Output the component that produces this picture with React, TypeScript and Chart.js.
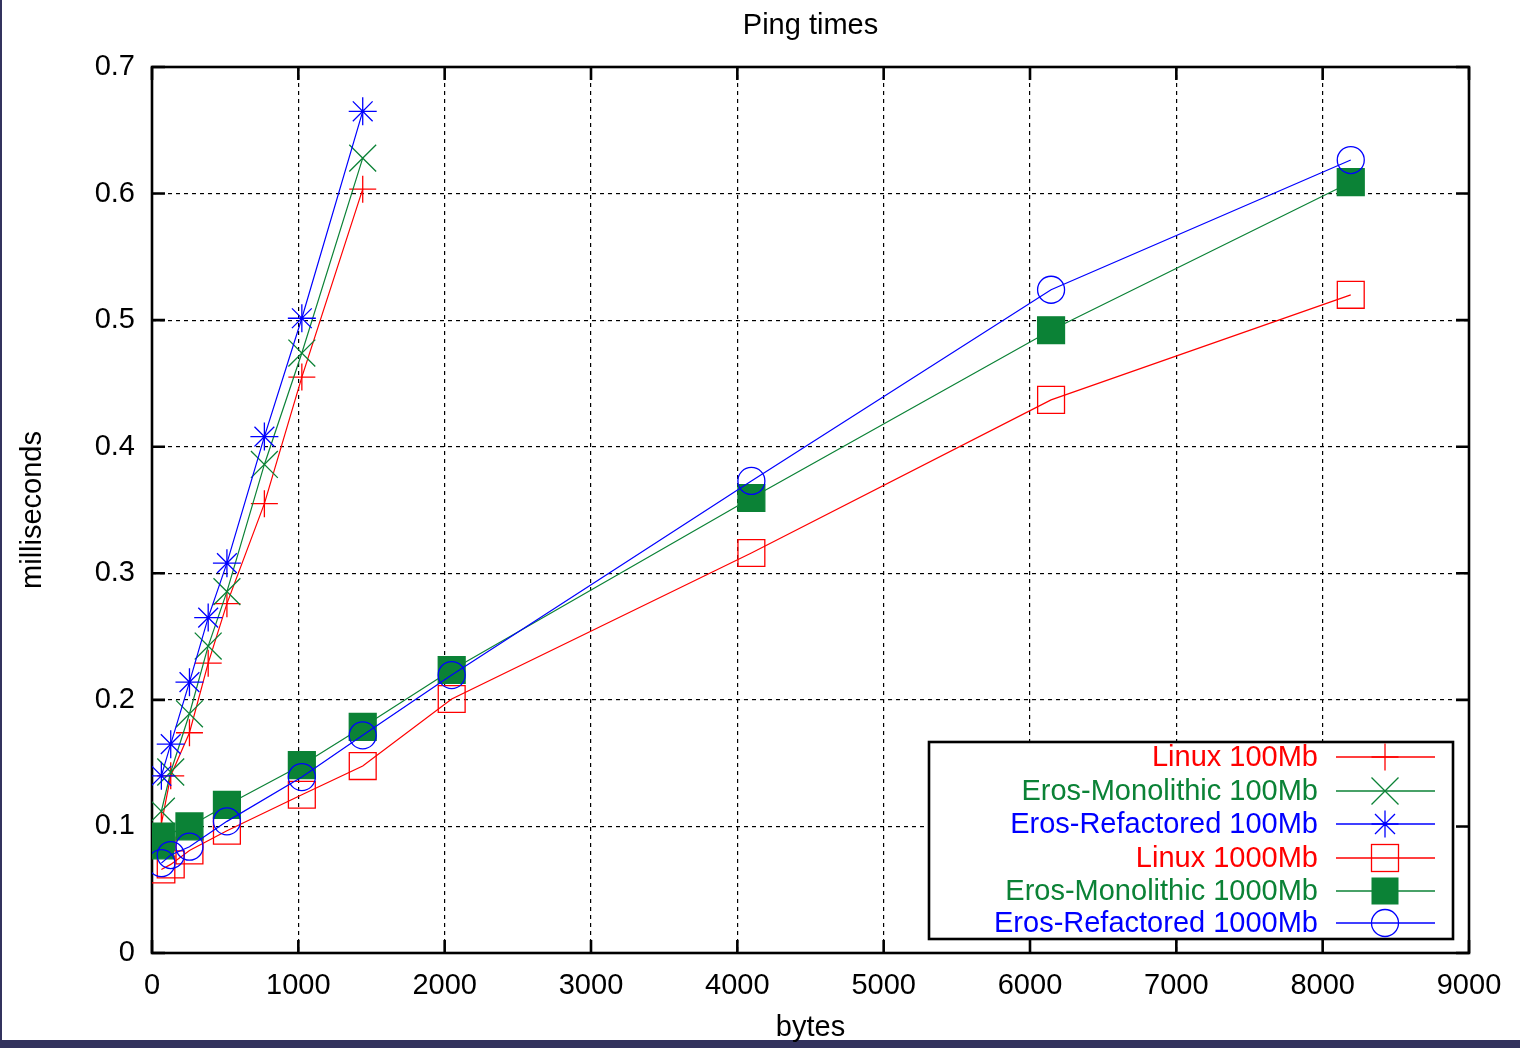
import React, { useEffect, useRef } from "react";
import { Chart, registerables } from "chart.js";

Chart.register(...registerables);

// ---- data ----
const xTickLabels = ["0", "1000", "2000", "3000", "4000", "5000", "6000", "7000", "8000", "9000"];
const yTickLabels = ["0", "0.1", "0.2", "0.3", "0.4", "0.5", "0.6", "0.7"];

const sizes100 = [64, 128, 256, 384, 512, 768, 1024, 1440];
const linux100 = [0.102, 0.14, 0.174, 0.229, 0.276, 0.355, 0.455, 0.6035];
const monolithic100 = [0.112, 0.143, 0.189, 0.2425, 0.2855, 0.386, 0.474, 0.628];
const refactored100 = [0.14, 0.165, 0.214, 0.265, 0.308, 0.408, 0.5015, 0.665];

const sizes1000 = [64, 128, 256, 512, 1024, 1440, 2048, 4096, 6144, 8192];
const linux1000 = [0.066, 0.07, 0.081, 0.0966, 0.125, 0.1477, 0.2007, 0.316, 0.437, 0.52];
const monolithicSizes1000 = [56, 64, 256, 512, 1024, 1440, 2048, 4096, 6144, 8192];
const monolithic1000 = [0.085, 0.092, 0.1, 0.117, 0.1485, 0.1786, 0.2236, 0.3595, 0.492, 0.609];
const refactored1000 = [0.071, 0.0774, 0.084, 0.104, 0.139, 0.172, 0.2196, 0.373, 0.524, 0.6265];

const seriesNames = [
  "Linux 100Mb",
  "Eros-Monolithic 100Mb",
  "Eros-Refactored 100Mb",
  "Linux 1000Mb",
  "Eros-Monolithic 1000Mb",
  "Eros-Refactored 1000Mb",
];

const RED = "#ff0000";
const GREEN = "#0b8236";
const BLUE = "#0000ff";
const NAVY = "#33335e";
const FONT = '"Liberation Sans", Arial, Helvetica, sans-serif';
const FS = 29;

const zip = (xs: number[], ys: number[]) => xs.map((x, i) => ({ x, y: ys[i] }));

type MarkerKind = "plus" | "x" | "star" | "square" | "filledSquare" | "circle";
const legendKinds: MarkerKind[] = ["plus", "x", "star", "square", "filledSquare", "circle"];
const legendColors = [RED, GREEN, BLUE, RED, GREEN, BLUE];

function drawMarker(ctx: CanvasRenderingContext2D, kind: MarkerKind, x: number, y: number, color: string) {
  ctx.save();
  ctx.strokeStyle = color;
  ctx.fillStyle = color;
  ctx.lineWidth = 1.3;
  ctx.beginPath();
  const r = 13.5;
  const d = 13.5;
  if (kind === "plus" || kind === "star") {
    ctx.moveTo(x - r, y);
    ctx.lineTo(x + r, y);
    ctx.moveTo(x, y - r);
    ctx.lineTo(x, y + r);
  }
  if (kind === "x") {
    ctx.moveTo(x - d, y - d);
    ctx.lineTo(x + d, y + d);
    ctx.moveTo(x - d, y + d);
    ctx.lineTo(x + d, y - d);
  }
  if (kind === "star") {
    const s = 10;
    ctx.moveTo(x - s, y - s);
    ctx.lineTo(x + s, y + s);
    ctx.moveTo(x - s, y + s);
    ctx.lineTo(x + s, y - s);
  }
  ctx.stroke();
  if (kind === "square") {
    ctx.strokeRect(x - 13.5, y - 13.5, 27, 27);
  }
  if (kind === "filledSquare") {
    ctx.fillRect(x - 13.5, y - 13.5, 27, 27);
  }
  if (kind === "circle") {
    ctx.beginPath();
    ctx.arc(x, y, 13.5, 0, Math.PI * 2);
    ctx.stroke();
  }
  if (kind === "star") {
    ctx.beginPath();
    ctx.arc(x, y, 2, 0, Math.PI * 2);
    ctx.fill();
  }
  ctx.restore();
}

const framePlugin = {
  id: "gnuplotFrame",
  beforeDraw(chart: any) {
    const { ctx, width, height } = chart;
    ctx.save();
    ctx.fillStyle = "#ffffff";
    ctx.fillRect(0, 0, width, height);
    ctx.fillStyle = NAVY;
    ctx.fillRect(0, 0, 2, height);
    ctx.fillRect(0, 1040, width, height - 1040);
    ctx.restore();
  },
  beforeDatasetsDraw(chart: any) {
    const { ctx, chartArea } = chart;
    const { left, right, top, bottom } = chartArea;
    const xs = chart.scales.x;
    const ys = chart.scales.y;
    ctx.save();
    ctx.strokeStyle = "#000";
    ctx.lineWidth = 2.6;
    ctx.setLineDash([]);
    ctx.beginPath();
    const tl = 13;
    xs.ticks.forEach((t: any) => {
      const px = xs.getPixelForValue(t.value);
      ctx.moveTo(px, bottom);
      ctx.lineTo(px, bottom - tl);
      ctx.moveTo(px, top);
      ctx.lineTo(px, top + tl);
    });
    ys.ticks.forEach((t: any) => {
      const py = ys.getPixelForValue(t.value);
      ctx.moveTo(left, py);
      ctx.lineTo(left + tl, py);
      ctx.moveTo(right, py);
      ctx.lineTo(right - tl, py);
    });
    ctx.stroke();
    ctx.strokeRect(left, top, right - left, bottom - top);
    ctx.restore();
  },
  afterDatasetsDraw(chart: any) {
    const { ctx } = chart;
    const bx = 929, by = 742, bw = 524, bh = 197;
    ctx.save();
    ctx.fillStyle = "#fff";
    ctx.fillRect(bx, by, bw, bh);
    ctx.strokeStyle = "#000";
    ctx.lineWidth = 2.6;
    ctx.strokeRect(bx, by, bw, bh);
    const rows = [757, 791, 824, 858, 891, 923];
    ctx.font = `${FS}px ${FONT}`;
    ctx.textAlign = "right";
    ctx.textBaseline = "middle";
    seriesNames.forEach((name, i) => {
      const y = rows[i];
      const c = legendColors[i];
      ctx.fillStyle = c;
      ctx.fillText(name, 1318, y + 1);
      ctx.strokeStyle = c;
      ctx.lineWidth = 1.3;
      ctx.beginPath();
      ctx.moveTo(1336, y);
      ctx.lineTo(1435, y);
      ctx.stroke();
      drawMarker(ctx, legendKinds[i], 1385, y, c);
    });
    ctx.restore();
  },
};

export default function App() {
  const ref = useRef<HTMLCanvasElement | null>(null);

  useEffect(() => {
    if (!ref.current) return;
    const mk = (
      label: string,
      xs: number[],
      ys: number[],
      color: string,
      pointStyle: string,
      radius: number,
      fill: string,
      order: number
    ) => ({
      label,
      data: zip(xs, ys),
      showLine: true,
      borderColor: color,
      backgroundColor: fill,
      borderWidth: 1.2,
      pointStyle,
      pointRadius: radius,
      pointHoverRadius: radius,
      pointBorderColor: color,
      pointBackgroundColor: fill,
      pointBorderWidth: 1.3,
      tension: 0,
      fill: false,
      order,
    });

    const chart = new Chart(ref.current, {
      type: "scatter",
      data: {
        datasets: [
          mk(seriesNames[0], sizes100, linux100, RED, "cross", 13.5, "transparent", 5),
          mk(seriesNames[1], sizes100, monolithic100, GREEN, "crossRot", 19, "transparent", 4),
          mk(seriesNames[2], sizes100, refactored100, BLUE, "star", 14, "transparent", 3),
          mk(seriesNames[3], sizes1000, linux1000, RED, "rect", 19, "transparent", 2),
          mk(seriesNames[4], monolithicSizes1000, monolithic1000, GREEN, "rect", 19, GREEN, 1),
          mk(seriesNames[5], sizes1000, refactored1000, BLUE, "circle", 13.5, "transparent", 0),
        ] as any,
      },
      options: {
        animation: false,
        responsive: false,
        devicePixelRatio: 1,
        layout: { padding: { top: 0, right: 51, bottom: 0, left: 0 } },
        plugins: {
          legend: { display: false },
          tooltip: { enabled: false },
          title: {
            display: true,
            text: "Ping times",
            fullSize: false,
            color: "#000",
            font: { family: FONT, size: FS, weight: "normal" },
            padding: { top: 8.6, bottom: 23.6 },
          },
        },
        scales: {
          x: {
            type: "linear",
            min: 0,
            max: 9000,
            afterFit: (s: any) => {
              s.height = 95;
            },
            ticks: {
              stepSize: 1000,
              color: "#000",
              padding: 15.6,
              maxRotation: 0,
              font: { family: FONT, size: FS },
              callback: (_v: any, i: number) => xTickLabels[i],
            },
            grid: { color: "#000", lineWidth: 1.2, drawTicks: false },
            border: { display: false, dash: [4, 4] },
            title: {
              display: true,
              text: "bytes",
              color: "#000",
              font: { family: FONT, size: FS },
              padding: { top: 0, bottom: 2.6 },
            },
          },
          y: {
            type: "linear",
            min: 0,
            max: 0.7,
            afterFit: (s: any) => {
              s.width = 152;
            },
            ticks: {
              stepSize: 0.1,
              color: "#000",
              padding: 17,
              font: { family: FONT, size: FS },
              callback: (_v: any, i: number) => yTickLabels[i],
            },
            grid: { color: "#000", lineWidth: 1.2, drawTicks: false },
            border: { display: false, dash: [4, 4] },
            title: {
              display: true,
              text: "milliseconds",
              color: "#000",
              font: { family: FONT, size: FS },
              padding: { top: 15.6, bottom: 0 },
            },
          },
        },
      } as any,
      plugins: [framePlugin as any],
    });
    return () => chart.destroy();
  }, []);

  return (
    <div style={{ position: "absolute", left: 0, top: 0, width: 1520, height: 1048 }}>
      <canvas ref={ref} width={1520} height={1048} style={{ width: 1520, height: 1048, display: "block" }} />
    </div>
  );
}
